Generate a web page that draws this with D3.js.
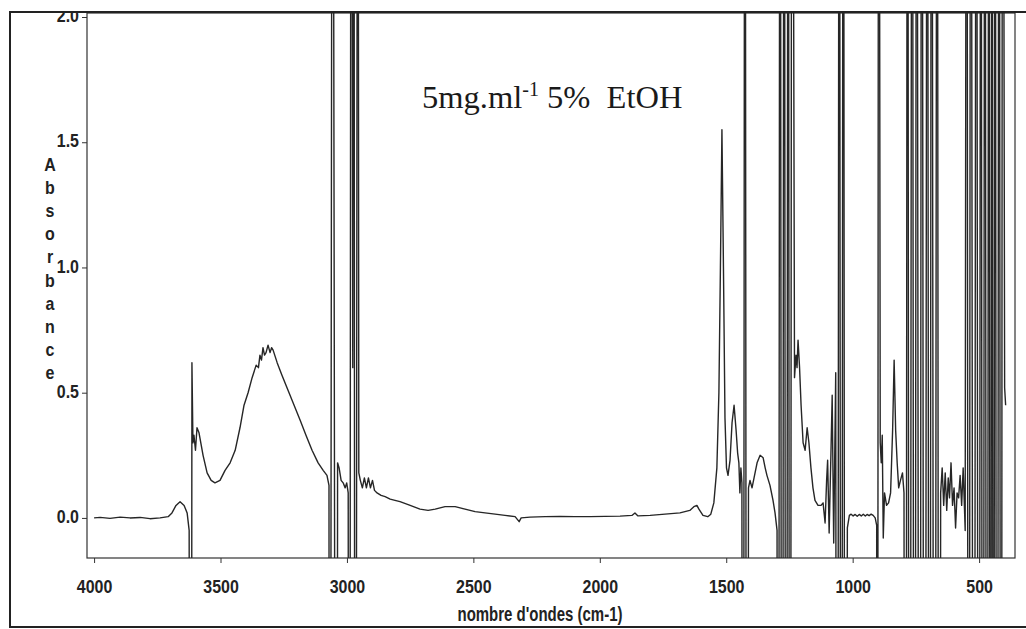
<!DOCTYPE html>
<html>
<head>
<meta charset="utf-8">
<script src="https://cdn.jsdelivr.net/npm/d3@7"></script>
<style>
  body { margin: 0; background: #fff; }
  .tick text { font-family: "Liberation Sans", Arial, sans-serif; font-weight: bold; font-size: 19px; fill: #222; }
  .axis path, .axis line { stroke: #333; }
  .lbl { font-family: "Liberation Sans", Arial, sans-serif; font-weight: bold; font-size: 19px; fill: #222; }
</style>
</head>
<body>
<div id="chart"></div>
<script>
var svgWidth = 1026;
var svgHeight = 629;

// plot box inside the scanned frame
var box = { left: 87, right: 1015, top: 13, bottom: 558 };

// spectrum (cm-1, absorbance); +-5 = off scale
var wavenumber = [
  4000, 3976, 3937, 3897, 3858, 3818, 3779, 3739, 3707, 3692, 3676, 3660, 3644, 3632, 3624, 3618,
  3613, 3609, 3605, 3599, 3593, 3585, 3569, 3553, 3537, 3522, 3502, 3482, 3462, 3442, 3423, 3407,
  3391, 3375, 3359, 3350, 3344, 3338, 3332, 3326, 3320, 3312, 3304, 3298, 3292, 3276, 3257, 3233,
  3209, 3185, 3162, 3138, 3114, 3094, 3079, 3071, 3069, 3057, 3041, 3037, 3031, 3023, 3015, 3007,
  3001, 2995, 2991, 2983, 2977, 2973, 2967, 2957, 2953, 2947, 2939, 2931, 2923, 2915, 2907, 2899,
  2891, 2881, 2865, 2849, 2829, 2810, 2790, 2750, 2711, 2679, 2651, 2612, 2572, 2533, 2493, 2454,
  2414, 2375, 2335, 2319, 2311, 2276, 2216, 2157, 2098, 2038, 1979, 1920, 1873, 1861, 1849, 1801,
  1742, 1683, 1644, 1628, 1616, 1608, 1592, 1573, 1561, 1549, 1537, 1529, 1523, 1517, 1511, 1505,
  1499, 1493, 1485, 1477, 1469, 1461, 1455, 1450, 1446, 1442, 1438, 1434, 1426, 1418, 1412, 1406,
  1398, 1390, 1378, 1366, 1354, 1346, 1339, 1327, 1315, 1307, 1299, 1295, 1287, 1279, 1271, 1263,
  1255, 1248, 1240, 1230, 1224, 1220, 1216, 1210, 1204, 1196, 1188, 1180, 1173, 1165, 1157, 1149,
  1137, 1125, 1117, 1109, 1103, 1099, 1093, 1085, 1081, 1075, 1067, 1061, 1053, 1045, 1037, 1029,
  1021, 1013, 1006, 998, 990, 982, 974, 966, 958, 950, 943, 935, 927, 919, 911, 905,
  903, 897, 891, 887, 883, 879, 874, 866, 858, 850, 842, 836, 830, 824, 818, 811,
  803, 797, 791, 783, 775, 765, 755, 747, 735, 727, 715, 705, 696, 688, 676, 666,
  658, 652, 646, 640, 634, 628, 622, 617, 611, 605, 599, 593, 587, 581, 575, 569,
  563, 555, 549, 541, 533, 527, 521, 511, 501, 493, 485, 477, 469, 461, 455, 449,
  443, 437, 429, 421, 413, 407, 399, 395
];
var absorbance = [
  0.0, 0.002, -0.002, 0.003, 0.0, 0.002, -0.003, 0.0, 0.005, 0.02, 0.05, 0.065, 0.05, 0.02, -0.05, -5,
  0.62, 0.3, 0.33, 0.27, 0.36, 0.34, 0.25, 0.18, 0.15, 0.14, 0.15, 0.19, 0.22, 0.27, 0.36, 0.45,
  0.50, 0.56, 0.61, 0.60, 0.65, 0.63, 0.68, 0.65, 0.66, 0.69, 0.66, 0.68, 0.67, 0.62, 0.57, 0.51,
  0.45, 0.39, 0.33, 0.27, 0.22, 0.19, 0.17, 0.13, -5, 5, -5, 0.22, 0.2, 0.15, 0.14, 0.12,
  0.14, 0.1, -5, 5, 0.6, 5, -5, 5, 0.18, 0.15, 0.12, 0.16, 0.12, 0.16, 0.12, 0.15,
  0.11, 0.1, 0.09, 0.085, 0.075, 0.07, 0.065, 0.05, 0.035, 0.03, 0.035, 0.045, 0.045, 0.035, 0.025, 0.02,
  0.015, 0.01, 0.005, -0.015, 0.0, 0.003, 0.005, 0.006, 0.005, 0.005, 0.006, 0.007, 0.01, 0.02, 0.008, 0.01,
  0.015, 0.02, 0.03, 0.045, 0.05, 0.035, 0.01, 0.005, 0.015, 0.06, 0.2, 0.5, 1.0, 1.55, 1.0, 0.4,
  0.2, 0.17, 0.23, 0.38, 0.45, 0.35, 0.26, 0.22, 0.1, 0.2, 0.14, -5, 5, -5, 0.12, 0.15,
  0.12, 0.16, 0.22, 0.25, 0.24, 0.2, 0.17, 0.13, 0.07, 0.02, -0.05, -5, 5, -5, 5, -5,
  5, -5, 5, 0.56, 0.65, 0.6, 0.71, 0.6, 0.45, 0.3, 0.27, 0.36, 0.3, 0.2, 0.12, 0.07,
  0.05, 0.05, 0.06, -0.02, 0.15, 0.23, -0.06, 0.3, 0.49, -0.1, 0.58, -5, 5, -5, 5, -5,
  -0.04, 0.01, 0.015, 0.008, 0.014, 0.007, 0.014, 0.008, 0.015, 0.008, 0.014, 0.009, 0.015, 0.01, 0.0, -0.03,
  -5, 5, 0.3, 0.22, 0.33, -0.08, 0.1, 0.05, 0.06, 0.1, 0.35, 0.63, 0.35, 0.22, 0.12, 0.15,
  0.18, 0.1, -5, 5, -5, 5, -5, 5, -5, 5, -5, 5, -5, 5, -5, 5,
  -5, 0.1, 0.2, 0.05, 0.18, 0.03, 0.16, 0.08, 0.22, 0.05, 0.12, -0.04, 0.1, 0.08, 0.17, 0.05,
  0.2, -0.05, 5, -5, 5, 0.45, -5, 5, -5, 5, -5, 5, -5, 5, -5, 5,
  -5, 5, -5, 5, -5, 5, 0.52, 0.45
];

var xTicks = [4000, 3500, 3000, 2500, 2000, 1500, 1000, 500];
var yTicks = [0.0, 0.5, 1.0, 1.5, 2.0];
var xLabel = "nombre d'ondes (cm-1)";
var yLabel = "Absorbance";

var spectrum = wavenumber.map(function(w, i) { return { w: w, a: absorbance[i] }; });

var svg = d3.select("#chart")
  .append("svg")
  .attr("width", svgWidth)
  .attr("height", svgHeight);

// squeeze the bold sans text like the narrow font of the scan
function condense(sel, ratio) {
  sel.each(function() {
    var len = this.getComputedTextLength();
    d3.select(this)
      .attr("textLength", len * ratio)
      .attr("lengthAdjust", "spacingAndGlyphs");
  });
}

// scales (x runs from high to low wavenumber)
var xScale = d3.scaleLinear()
  .domain([4028, 358])
  .range([box.left, box.right]);

var yScale = d3.scaleLinear()
  .domain([-0.16, 2.016])
  .range([box.bottom, box.top]);

// axes
var xAxis = svg.append("g")
  .attr("class", "axis")
  .attr("transform", `translate(0, ${box.bottom})`)
  .call(d3.axisBottom(xScale).tickValues(xTicks).tickFormat(d3.format("d")).tickSize(5).tickPadding(17));

var yAxis = svg.append("g")
  .attr("class", "axis")
  .attr("transform", `translate(${box.left}, 0)`)
  .call(d3.axisLeft(yScale).tickValues(yTicks).tickFormat(d3.format(".1f")).tickSize(5).tickPadding(3));

xAxis.select(".domain").remove();
yAxis.select(".domain").remove();
yAxis.selectAll(".tick text").attr("dy", "0.25em");
condense(xAxis.selectAll(".tick text"), 0.84);
condense(yAxis.selectAll(".tick text"), 0.84);

// plot box
svg.append("rect")
  .attr("x", box.left)
  .attr("y", box.top)
  .attr("width", box.right - box.left)
  .attr("height", box.bottom - box.top)
  .attr("fill", "none")
  .attr("stroke", "#333")
  .attr("stroke-width", 1.2);

// clip the saturated bands to the box
svg.append("clipPath")
  .attr("id", "plot-clip")
  .append("rect")
  .attr("x", box.left)
  .attr("y", box.top)
  .attr("width", box.right - box.left)
  .attr("height", box.bottom - box.top);

var line = d3.line()
  .x(d => xScale(d.w))
  .y(d => yScale(d.a));

svg.append("path")
  .datum(spectrum)
  .attr("clip-path", "url(#plot-clip)")
  .attr("d", line)
  .attr("fill", "none")
  .attr("stroke", "#262626")
  .attr("stroke-width", 1.4)
  .attr("stroke-linejoin", "round");

// y label: letters stacked
var yLetters = svg.append("g")
  .selectAll("text")
  .data(yLabel.split(""))
  .enter()
  .append("text")
  .attr("class", "lbl")
  .attr("x", 50)
  .attr("y", (d, i) => 171 + i * 23.1)
  .attr("text-anchor", "middle")
  .text(d => d);
condense(yLetters, 0.84);

// x label
var xTitle = svg.append("text")
  .attr("class", "lbl")
  .attr("x", 540)
  .attr("y", 621)
  .attr("text-anchor", "middle")
  .style("font-size", "20px")
  .text(xLabel);
xTitle.attr("textLength", 165).attr("lengthAdjust", "spacingAndGlyphs");

// sample note
var title = svg.append("text")
  .attr("x", 422)
  .attr("y", 108)
  .style("font-family", "\"Liberation Serif\", \"Times New Roman\", serif")
  .style("font-size", "32.5px")
  .style("fill", "#1a1a1a")
  .style("white-space", "pre");
title.append("tspan").text("5mg.ml");
title.append("tspan").attr("dy", -12).style("font-size", "20px").text("-1");
title.append("tspan").attr("dy", 12).text(" 5%  EtOH");

// scanned page frame; it cuts the top tick label
svg.append("rect")
  .attr("x", 0)
  .attr("y", 0)
  .attr("width", svgWidth)
  .attr("height", 12)
  .attr("fill", "#fff");

svg.append("path")
  .attr("d", `M${svgWidth},12 H10 V627 H${svgWidth}`)
  .attr("fill", "none")
  .attr("stroke", "#222")
  .attr("stroke-width", 2);
</script>
</body>
</html>
